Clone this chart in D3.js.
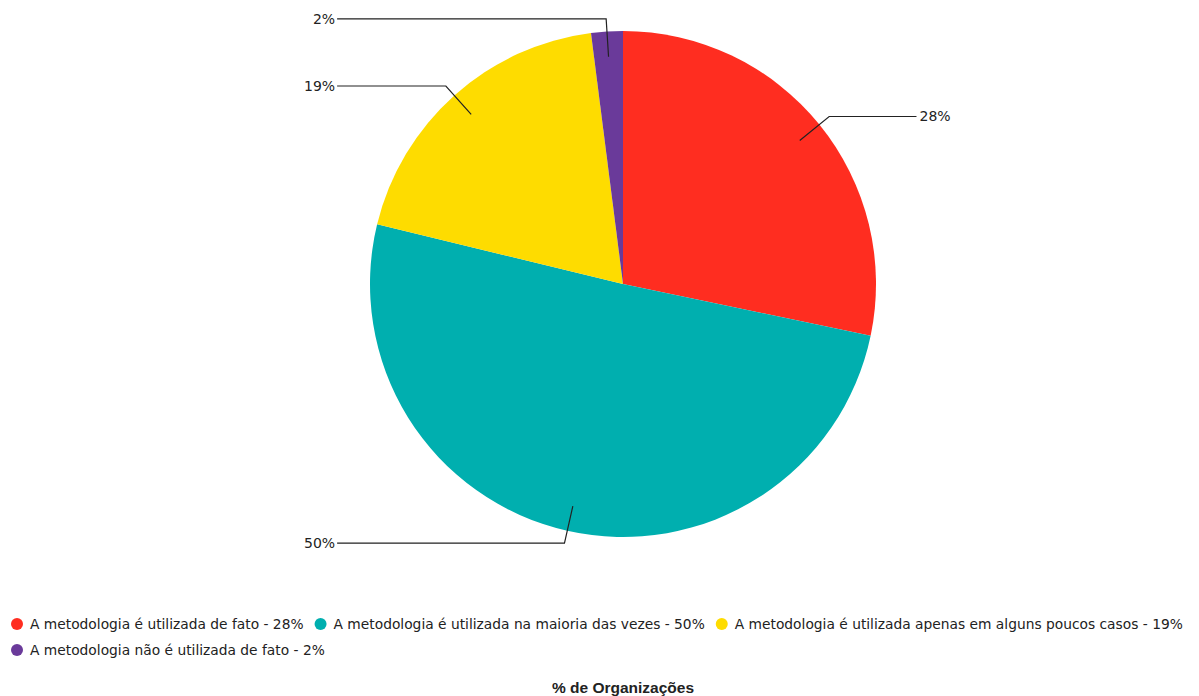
<!DOCTYPE html>
<html>
<head>
<meta charset="utf-8">
<script src="https://cdn.jsdelivr.net/npm/d3@7"></script>
<style>
  html, body { margin: 0; padding: 0; background: #fff; }
  svg { display: block; }
</style>
</head>
<body>
<svg id="chart" width="1199" height="696"></svg>
<script>
// Survey answers and their shares (percent of organizations)
const categories = [
  "A metodologia é utilizada de fato",
  "A metodologia é utilizada na maioria das vezes",
  "A metodologia é utilizada apenas em alguns poucos casos",
  "A metodologia não é utilizada de fato"
];
const values = [28, 50, 19, 2];
const colors = ["#FF2D20", "#00AFAF", "#FEDC00", "#6A3A9A"];
const title = "% de Organizações";

const width = 1199, height = 696;
const cx = 623, cy = 284, radius = 253;
const svg = d3.select("#chart");

const pie = d3.pie().sort(null).value(d => d)(values);
const arc = d3.arc().innerRadius(0).outerRadius(radius);

const g = svg.append("g").attr("transform", `translate(${cx},${cy})`);

g.selectAll("path.slice")
  .data(pie)
  .join("path")
  .attr("class", "slice")
  .attr("d", arc)
  .attr("fill", (d, i) => colors[i]);

// Leader lines: from inside the slice, out past the rim, then horizontal
const innerArc = d3.arc().innerRadius(radius * 0.9).outerRadius(radius * 0.9);
const elbowArc = d3.arc().innerRadius(radius * 1.05).outerRadius(radius * 1.05);
const reachRight = radius * 1.16, reachLeft = radius * 1.13;

pie.forEach((d, i) => {
  const mid = (d.startAngle + d.endAngle) / 2;
  const right = Math.sin(mid) >= 0;
  const p0 = innerArc.centroid(d);
  const p1 = elbowArc.centroid(d);
  const p2 = [right ? reachRight : -reachLeft, p1[1]];
  g.append("polyline")
    .attr("points", [p0, p1, p2].map(p => p.join(",")).join(" "))
    .attr("fill", "none")
    .attr("stroke", "#222")
    .attr("stroke-width", 1.2);
  g.append("text")
    .attr("x", p2[0] + (right ? 3 : -2))
    .attr("y", p2[1])
    .attr("dy", "0.35em")
    .attr("text-anchor", right ? "start" : "end")
    .attr("font-family", "DejaVu Sans, sans-serif")
    .attr("font-size", 14)
    .attr("fill", "#222")
    .text(values[i] + "%");
});

// Legend, flowing left to right and wrapping to a new row
const legend = svg.append("g").attr("font-family", "DejaVu Sans, sans-serif").attr("font-size", 13.8);
let lx = 11, ly = 624;
const rowGap = 26, maxX = width - 8;
categories.forEach((c, i) => {
  const item = legend.append("g");
  item.append("circle").attr("cx", 6).attr("cy", 0).attr("r", 6).attr("fill", colors[i]);
  const t = item.append("text")
    .attr("x", 19).attr("y", 0).attr("dy", "0.35em")
    .attr("fill", "#222")
    .text(`${c} - ${values[i]}%`);
  const w = 19 + t.node().getComputedTextLength();
  if (lx + w > maxX) { lx = 11; ly += rowGap; }
  item.attr("transform", `translate(${lx},${ly})`);
  lx += w + 11;
});

svg.append("text")
  .attr("x", cx).attr("y", 693)
  .attr("text-anchor", "middle")
  .attr("font-family", "Liberation Sans, Arial, sans-serif")
  .attr("font-weight", "bold")
  .attr("font-size", 15.5)
  .attr("fill", "#222")
  .text(title);
</script>
</body>
</html>
